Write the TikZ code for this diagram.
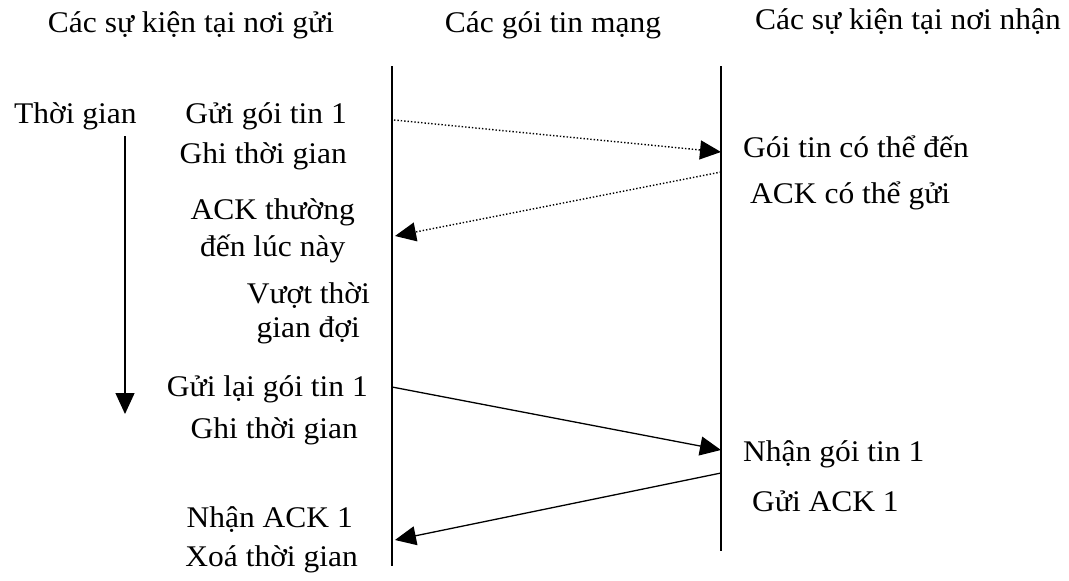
\documentclass[tikz,border=0pt]{standalone}
\usepackage{fontspec}
\setmainfont{Liberation Serif}[FakeStretch=1.05]
\usepackage{xcolor}
\usetikzlibrary{positioning, arrows.meta, calc}

\begin{document}
\begin{tikzpicture}[x=1pt, y=-1pt,
    every node/.style={inner sep=0pt, font=\fontsize{30}{36}\selectfont},
    lifeline/.style={line width=1.6pt},
    msg/.style={line width=1.3pt, -{Triangle[length=21pt, width=19pt]}},
    lostmsg/.style={msg, line width=1.4pt, dotted}]
    \useasboundingbox (0,0) rectangle (1069,581);

    % column headings
    \node[anchor=base] (hsend) at (191,32) {Các sự kiện tại nơi gửi};
    \node[anchor=base] (hnet)  at (553,32) {Các gói tin mạng};
    \node[anchor=base] (hrecv) at (908,29) {Các sự kiện tại nơi nhận};

    % lifelines
    \coordinate (stop) at (392,66);
    \coordinate (sbot) at (392,566);
    \coordinate (rtop) at (721,66);
    \coordinate (rbot) at (721,551);
    \draw[lifeline] (stop) -- (sbot);
    \draw[lifeline] (rtop) -- (rbot);

    % time axis
    \node[anchor=base west] (time) at (14,123) {Thời gian};
    \coordinate (ttop) at (125,136);
    \coordinate (tbot) at (125,414);
    \draw[msg] (ttop) -- (tbot);

    % sender events (base of a two-line node = its last line)
    \node[anchor=base east] (send1)  at (347,123) {Gửi gói tin 1};
    \node[anchor=base east] (mark1)  at (347,163) {Ghi thời gian};
    \node[anchor=base east, align=center] (ackdue) at (355,256) {ACK thường\\[1pt]đến lúc này};
    \node[anchor=base east, align=center] (tmout)  at (370,337) {Vượt thời\\[-2pt]gian đợi};
    \node[anchor=base east] (resend) at (368,396) {Gửi lại gói tin 1};
    \node[anchor=base east] (mark2)  at (358,438) {Ghi thời gian};
    \node[anchor=base east] (gotack) at (353,527) {Nhận ACK 1};
    \node[anchor=base east] (clear)  at (358,566) {Xoá thời gian};

    % receiver events
    \node[anchor=base west] (maybein)  at (743,157) {Gói tin có thể đến};
    \node[anchor=base west] (maybeack) at (750,203) {ACK có thể gửi};
    \node[anchor=base west] (recv1)    at (743,461) {Nhận gói tin 1};
    \node[anchor=base west] (ack1)     at (752,511) {Gửi ACK 1};

    % packets
    \coordinate (p1s) at (394,120);
    \coordinate (p1r) at (721,152);
    \coordinate (a1r) at (721,172);
    \coordinate (a1s) at (395,236);
    \coordinate (p2s) at (392,387);
    \coordinate (p2r) at (721,450);
    \coordinate (a2r) at (721,473);
    \coordinate (a2s) at (395,540);
    \draw[lostmsg] (p1s) -- (p1r);
    \draw[lostmsg] (a1r) -- (a1s);
    \draw[msg] (p2s) -- (p2r);
    \draw[msg] (a2r) -- (a2s);
\end{tikzpicture}
\end{document}
